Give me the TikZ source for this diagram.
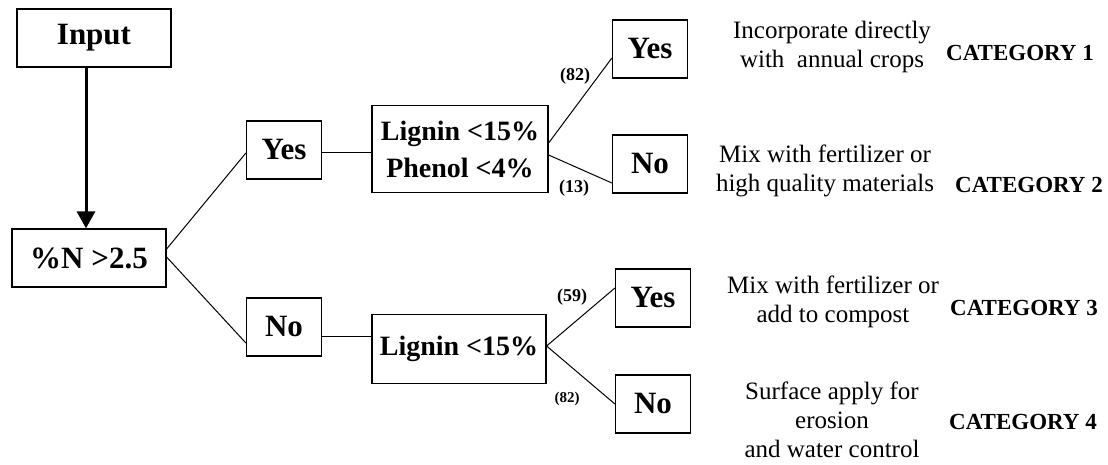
\documentclass[tikz,border=0pt]{standalone}
\usepackage{fontspec}
\setmainfont{Liberation Serif}
\usetikzlibrary{arrows.meta}

\tikzset{
  box/.style={draw,line width=1.2pt,inner sep=0pt,align=center,font=\fontsize{31}{37}\selectfont\bfseries},
  small box/.style={box,minimum width=75pt,minimum height=58pt},
  link/.style={line width=1pt},
  count/.style={inner sep=0pt,font=\fontsize{18}{20}\selectfont\bfseries},
  advice/.style={inner sep=0pt,align=center,font=\fontsize{25}{29}\selectfont},
  category/.style={inner sep=0pt,font=\fontsize{23}{26}\selectfont\bfseries}
}

\begin{document}
\begin{tikzpicture}[x=1pt,y=-1pt]
        \useasboundingbox (0,0) rectangle (1108,465);

        \coordinate (v1) at (94,38);
        \coordinate (v2) at (89,258);
        \coordinate (v3) at (284,150);
        \coordinate (v4) at (284,327);
        \coordinate (v5) at (460,149);
        \coordinate (v6) at (459,349);
        \coordinate (v7) at (650,49);
        \coordinate (v8) at (650,164);
        \coordinate (v9) at (653,298);
        \coordinate (v10) at (653,404);

        \node[box,minimum width=154pt,minimum height=58pt] (Input) at (v1){Input};
        \node[box,minimum width=154pt,minimum height=58pt] (Nitrogen) at (v2){\%N >2.5};
        \node[small box] (YesN) at (v3){Yes};
        \node[small box] (NoN) at (v4){No};
        \node[box,minimum width=176pt,minimum height=87pt,font=\fontsize{28}{37}\selectfont\bfseries] (LigninPhenol) at (v5){Lignin <15\%\\Phenol <4\%};
        \node[box,minimum width=174pt,minimum height=69pt,font=\fontsize{28}{37}\selectfont\bfseries] (Lignin) at (v6){Lignin <15\%};
        \node[small box] (YesLP) at (v7){Yes};
        \node[small box] (NoLP) at (v8){No};
        \node[small box] (YesL) at (v9){Yes};
        \node[small box] (NoL) at (v10){No};

        \draw[line width=3pt,-{Triangle[width=18pt,length=17pt]}] ([xshift=-8pt]Input.south) -- ([xshift=-8pt]Input.south |- Nitrogen.north);
        \draw[link] ([yshift=9pt]Nitrogen.east) -- ([yshift=-3pt]YesN.west);
        \draw[link] ([yshift=1pt]Nitrogen.east) -- ([yshift=-16pt]NoN.west);
        \draw[link] ([yshift=-3pt]YesN.east) -- ([yshift=-4pt]LigninPhenol.west);
        \draw[link] ([yshift=-9pt]NoN.east) -- ([yshift=13pt]Lignin.west);
        \draw[link] ([yshift=6pt]LigninPhenol.east) -- ([yshift=-9pt]YesLP.west);
        \draw[link] ([yshift=-6pt]LigninPhenol.east) -- ([yshift=-19pt]NoLP.west);
        \draw[link] ([yshift=3pt]Lignin.east) -- ([yshift=10pt]YesL.west);
        \draw[link] ([yshift=3pt]Lignin.east) -- (NoL.west);

        \node[count] (CountYesLP) at (575,76){(82)};
        \node[count] (CountNoLP) at (574,188){(13)};
        \node[count] (CountYesL) at (572,297){(59)};
        \node[count,font=\fontsize{15}{17}\selectfont\bfseries] (CountNoL) at (567,399){(82)};

        \node[advice] (UseOne) at (832,47){Incorporate directly\\with\ \ annual crops};
        \node[advice] (UseTwo) at (825,171){Mix with fertilizer or\\high quality materials};
        \node[advice] (UseThree) at (833,302){Mix with fertilizer or\\add to compost};
        \node[advice] (UseFour) at (832,420){Surface apply for\\erosion\\and water control};

        \node[category] (CatOne) at (1020,53){CATEGORY 1};
        \node[category] (CatTwo) at (1029,185){CATEGORY 2};
        \node[category] (CatThree) at (1024,308){CATEGORY 3};
        \node[category] (CatFour) at (1023,422){CATEGORY 4};
    \end{tikzpicture}
\end{document}
